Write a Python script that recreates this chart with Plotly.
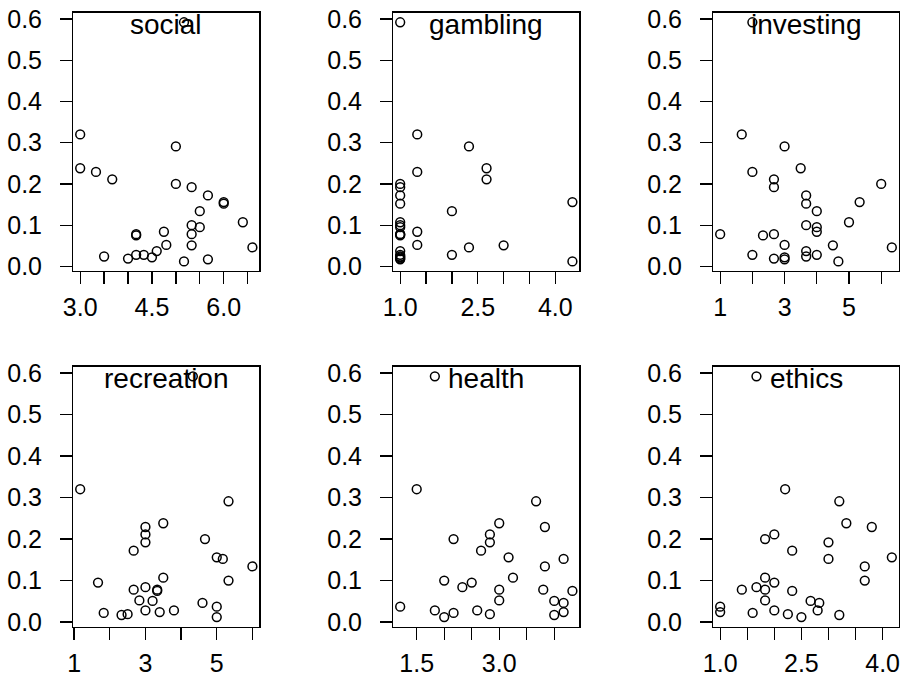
import plotly.graph_objects as go

# shared response values (y) for every panel
y_vals = [0.592, 0.320, 0.291, 0.238, 0.229, 0.211, 0.200, 0.192, 0.172, 0.156,
          0.152, 0.134, 0.107, 0.100, 0.095, 0.084, 0.078, 0.078, 0.075, 0.052,
          0.051, 0.046, 0.037, 0.028, 0.028, 0.024, 0.022, 0.019, 0.017, 0.012]

social = [5.17, 3.0, 5.0, 3.0, 3.33, 3.67, 5.0, 5.33, 5.67, 6.0,
          6.0, 5.5, 6.4, 5.33, 5.5, 4.75, 4.17, 5.33, 4.17, 4.8,
          5.33, 6.6, 4.6, 4.17, 4.33, 3.5, 4.5, 4.0, 5.67, 5.17]
gambling = [1.0, 1.33, 2.33, 2.67, 1.33, 2.67, 1.0, 1.0, 1.0, 4.33,
            1.0, 2.0, 1.0, 1.0, 1.0, 1.33, 1.0, 1.0, 1.0, 1.33,
            3.0, 2.33, 1.0, 2.0, 1.0, 1.0, 1.0, 1.0, 1.0, 4.33]
investing = [2.0, 1.67, 3.0, 3.5, 2.0, 2.67, 6.0, 2.67, 3.67, 5.33,
             3.67, 4.0, 5.0, 3.67, 4.0, 4.0, 1.0, 2.67, 2.33, 3.0,
             4.5, 6.33, 3.67, 2.0, 4.0, 3.67, 3.0, 2.67, 3.0, 4.67]
recreation = [4.33, 1.17, 5.33, 3.5, 3.0, 3.0, 4.67, 3.0, 2.67, 5.0,
              5.17, 6.0, 3.5, 5.33, 1.67, 3.0, 2.67, 3.33, 3.33, 2.83,
              3.2, 4.6, 5.0, 3.8, 3.0, 3.4, 1.83, 2.5, 2.33, 5.0]
health = [1.83, 1.5, 3.67, 3.0, 3.83, 2.83, 2.17, 2.83, 2.67, 3.17,
          4.17, 3.83, 3.25, 2.0, 2.5, 2.33, 3.0, 3.8, 4.33, 3.0,
          4.0, 4.17, 1.2, 1.83, 2.6, 4.17, 2.17, 2.83, 4.0, 2.0]
ethics = [1.67, 2.2, 3.2, 3.33, 3.8, 2.0, 1.83, 3.0, 2.33, 4.17,
          3.0, 3.67, 1.83, 3.67, 2.0, 1.67, 1.4, 1.83, 2.33, 1.83,
          2.67, 2.83, 1.0, 2.0, 2.8, 1.0, 1.6, 2.25, 3.2, 2.5]

panel_names = ["social", "gambling", "investing", "recreation", "health", "ethics"]
panel_x = [social, gambling, investing, recreation, health, ethics]

# tick positions and labels per panel (R drops overlapping labels)
x_tickvals = [
    [3.0, 3.5, 4.0, 4.5, 5.0, 5.5, 6.0, 6.5],
    [1.0, 1.5, 2.0, 2.5, 3.0, 3.5, 4.0],
    [1, 2, 3, 4, 5, 6],
    [1, 2, 3, 4, 5, 6],
    [1.5, 2.0, 2.5, 3.0, 3.5, 4.0],
    [1.0, 1.5, 2.0, 2.5, 3.0, 3.5, 4.0],
]
x_ticktext = [
    ["3.0", "", "", "4.5", "", "", "6.0", ""],
    ["1.0", "", "", "2.5", "", "", "4.0"],
    ["1", "", "3", "", "5", ""],
    ["1", "", "3", "", "5", ""],
    ["1.5", "", "", "3.0", "", ""],
    ["1.0", "", "", "2.5", "", "", "4.0"],
]
y_tickvals = [0.0, 0.1, 0.2, 0.3, 0.4, 0.5, 0.6]
y_ticktext = ["0.0", "0.1", "0.2", "0.3", "0.4", "0.5", "0.6"]

W, H = 904, 676
col_px = [(73.3, 259.3), (393.3, 579.3), (713.3, 898.7)]
row_px = [(12.7, 271.0), (366.7, 626.7)]

FONT = "Liberation Sans, Arial, Helvetica, sans-serif"
FS = 25
FS_TITLE = 28


def rrange(v):
    lo, hi = min(v), max(v)
    d = (hi - lo) * 0.04
    return [lo - d, hi + d]


fig = go.Figure()
layout = dict(
    width=W, height=H,
    margin=dict(l=0, r=0, t=0, b=0, pad=0, autoexpand=False),
    paper_bgcolor="white", plot_bgcolor="white",
    showlegend=False,
    font=dict(family=FONT, size=FS, color="black"),
)
annotations = []
for i, (name, xs) in enumerate(zip(panel_names, panel_x)):
    r, c = divmod(i, 3)
    idx = "" if i == 0 else str(i + 1)
    fig.add_trace(go.Scatter(
        x=xs, y=y_vals, mode="markers",
        marker=dict(symbol="circle-open", size=8.8, color="black",
                    line=dict(width=1.5, color="black")),
        xaxis="x" + idx, yaxis="y" + idx, cliponaxis=False,
    ))
    x0, x1 = col_px[c]
    y0, y1 = row_px[r]
    common = dict(showgrid=False, zeroline=False, showline=True, mirror=True,
                  linecolor="black", linewidth=1.3, ticks="outside", ticklen=12,
                  tickwidth=1.3, tickcolor="black", automargin=False,
                  tickfont=dict(family=FONT, size=FS, color="black"))
    layout["xaxis" + idx] = dict(
        domain=[x0 / W, x1 / W], anchor="y" + idx, range=rrange(xs),
        tickmode="array", tickvals=x_tickvals[i], ticktext=x_ticktext[i],
        ticklabelstandoff=2, **common)
    layout["yaxis" + idx] = dict(
        domain=[1 - y1 / H, 1 - y0 / H], anchor="x" + idx, range=rrange(y_vals),
        tickmode="array", tickvals=y_tickvals, ticktext=y_ticktext,
        ticklabelstandoff=13, **common)
    annotations.append(dict(
        text=name, xref="x" + idx + " domain", yref="y" + idx + " domain",
        x=0.5, y=1, xanchor="center", yanchor="top", yshift=6,
        showarrow=False, font=dict(family=FONT, size=FS_TITLE, color="black")))

layout["annotations"] = annotations
fig.update_layout(**layout)
fig.write_html("out.html",
               config={"displayModeBar": False, "staticPlot": True},
               post_script="document.body.style.margin='0';"
                           "document.body.style.overflow='hidden';")
